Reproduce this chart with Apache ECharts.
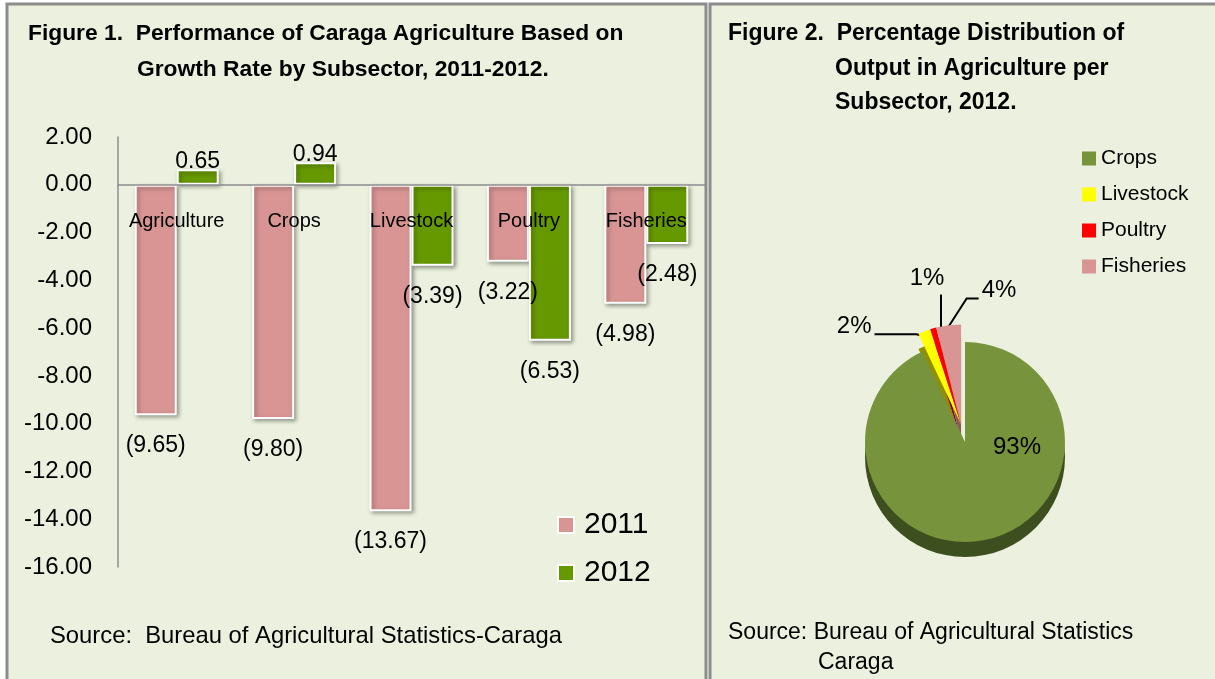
<!DOCTYPE html>
<html>
<head>
<meta charset="utf-8">
<script src="https://cdn.jsdelivr.net/npm/echarts@6/dist/echarts.min.js"></script>
<style>
  html, body { margin: 0; padding: 0; background: #ffffff; }
  #chart { width: 1215px; height: 679px; }
</style>
</head>
<body>
<div id="chart"></div>
<script>
// ---- data ----
const categories = ['Agriculture', 'Crops', 'Livestock', 'Poultry', 'Fisheries'];
const years = ['2011', '2012'];
const growth2011 = [-9.65, -9.80, -13.67, -3.22, -4.98];
const growth2012 = [0.65, 0.94, -3.39, -6.53, -2.48];
const yMin = -16, yMax = 2, yStep = 2;

const subsectors = ['Crops', 'Livestock', 'Poultry', 'Fisheries'];
const share2012 = [93, 2, 1, 4];

// ---- styling ----
const FONT = '"Liberation Sans", Arial, sans-serif';
const BG = '#EBF1DE';
const BORDER = '#8C8C8C';
const barColors = ['#D99594', '#669900'];
const pieTop = ['#77933C', '#FFFF00', '#FF0000', '#D99594'];
const pieSide = ['#3E4F1F', '#8F8F00', '#8A0000', '#8A5A59'];

const W = 1215, H = 679;
const GRID = { left: 118, right: 510, top: 137, bottom: 112 };
const CAT_LABEL_GAP = 27;
// place the category labels just below the zero line, as in the original
const gridH = H - GRID.top - GRID.bottom;
const zeroOffsetFromBottom = gridH * (0 - yMin) / (yMax - yMin);
const catLabelMargin = CAT_LABEL_GAP - zeroOffsetFromBottom;

// pie geometry: the small subsectors are pulled out of the pie together
const PIE_C = [965, 442], PIE_R = 100, DEPTH = 15, EXPLODE = 18;
const shareTotal = share2012.reduce((a, b) => a + b, 0);
const cropsEndDeg = 90 - 360 * share2012[0] / shareTotal + 360;
const smallMidRad = ((cropsEndDeg + 90) / 2) * Math.PI / 180;
const SMALL_C = [PIE_C[0] + EXPLODE * Math.cos(smallMidRad), PIE_C[1] - EXPLODE * Math.sin(smallMidRad)];

function fmtGrowth(v) {
  return v < 0 ? '(' + Math.abs(v).toFixed(2) + ')' : v.toFixed(2);
}

function barData(values) {
  return values.map(v => ({
    value: v,
    label: { position: v < 0 ? 'bottom' : 'top', distance: v < 0 ? 19 : -4 }
  }));
}

const HIDDEN = { itemStyle: { color: 'rgba(0,0,0,0)' }, label: { show: false }, labelLine: { show: false } };

// crops slice + an invisible stand-in for the rest
function cropsData(colors) {
  const rest = share2012.slice(1).reduce((a, b) => a + b, 0);
  return [
    { name: subsectors[0], value: share2012[0], itemStyle: { color: colors[0] } },
    Object.assign({ name: '', value: rest }, HIDDEN)
  ];
}
// invisible stand-in for crops + the small slices
function smallData(colors) {
  return [Object.assign({ name: '', value: share2012[0] }, HIDDEN)].concat(
    subsectors.slice(1).map((name, k) => ({
      name: name, value: share2012[k + 1], itemStyle: { color: colors[k + 1] }
    })));
}

// leader-line placement for the small-slice labels, relative to each slice's box
function smallLabelLayout(p) {
  const r = p.rect;
  if (p.dataIndex === 1) { // 2% – line to the left
    const s = [r.x + 6, r.y + 7];
    const m = [s[0] - 8, s[1] - 2];
    const e = [s[0] - 50, s[1] - 2];
    return { x: e[0] - 3, y: e[1] - 8, align: 'right', verticalAlign: 'middle',
      labelLinePoints: [s, m, e] };
  }
  if (p.dataIndex === 2) { // 1% – line straight up
    const s = [r.x + r.width * 0.35, r.y + 3];
    const m = [s[0], s[1] - 18];
    const e = [s[0], s[1] - 36];
    return { x: e[0] - 14, y: e[1] - 16, align: 'center', verticalAlign: 'middle',
      labelLinePoints: [s, m, e] };
  }
  if (p.dataIndex === 3) { // 4% – line up and to the right
    const s = [r.x + r.width * 0.5, r.y + 2];
    const m = [s[0] + 18, s[1] - 28];
    const e = [m[0] + 12, m[1]];
    return { x: e[0] + 3, y: e[1] - 8, align: 'left', verticalAlign: 'middle',
      labelLinePoints: [s, m, e] };
  }
  return {};
}

function cropsLabelLayout(p) {
  if (p.dataIndex !== 0) return {};
  return { x: PIE_C[0] + 52, y: PIE_C[1] + 5, align: 'center', verticalAlign: 'middle' };
}

const chart = echarts.init(document.getElementById('chart'));

const titleStyle = { fontFamily: FONT, fontSize: 23, fontWeight: 'bold', color: '#000' };
const srcStyle = { fontFamily: FONT, fontSize: 23, fontWeight: 'normal', color: '#000' };
const pieCommon = { type: 'pie', radius: PIE_R, startAngle: 90, clockwise: true,
  avoidLabelOverlap: false, emphasis: { disabled: true }, selectedMode: false };

const option = {
  backgroundColor: '#ffffff',
  animation: false,
  textStyle: { fontFamily: FONT, color: '#000' },
  graphic: [
    { type: 'rect', z: -10, shape: { x: 7, y: 4, width: 699, height: 700 },
      style: { fill: BG, stroke: BORDER, lineWidth: 3 } },
    { type: 'rect', z: -10, shape: { x: 710, y: 4, width: 520, height: 700 },
      style: { fill: BG, stroke: BORDER, lineWidth: 3 } }
  ],
  title: [
    { text: 'Figure 1.  Performance of Caraga Agriculture Based on', left: 28, top: 22, padding: 0,
      textStyle: Object.assign({}, titleStyle, { fontSize: 22.8 }) },
    { text: 'Growth Rate by Subsector, 2011-2012.', left: 137, top: 58, padding: 0,
      textStyle: Object.assign({}, titleStyle, { fontSize: 22.8 }) },
    { text: 'Figure 2.  Percentage Distribution of', left: 728, top: 22, padding: 0, textStyle: titleStyle },
    { text: 'Output in Agriculture per', left: 835, top: 57, padding: 0, textStyle: titleStyle },
    { text: 'Subsector, 2012.', left: 835, top: 91, padding: 0, textStyle: titleStyle },
    { text: 'Source:  Bureau of Agricultural Statistics-Caraga', left: 50, top: 624, padding: 0,
      textStyle: Object.assign({}, srcStyle, { fontSize: 23.8 }) },
    { text: 'Source: Bureau of Agricultural Statistics', left: 728, top: 621, padding: 0, textStyle: srcStyle },
    { text: 'Caraga', left: 818, top: 651, padding: 0, textStyle: srcStyle }
  ],
  legend: [
    { data: years, orient: 'vertical', left: 557, top: 510, padding: 0, itemWidth: 16, itemHeight: 16,
      itemGap: 18, icon: 'rect',
      textStyle: { fontFamily: FONT, fontSize: 30, color: '#000', padding: [0, 0, 0, 5] } },
    { data: subsectors, orient: 'vertical', left: 1082, top: 148, padding: 0, itemWidth: 14, itemHeight: 14,
      itemGap: 15, icon: 'rect', textStyle: { fontFamily: FONT, fontSize: 21, color: '#000' } }
  ],
  grid: Object.assign({ containLabel: false }, GRID),
  xAxis: {
    type: 'category', data: categories, z: 5,
    axisLine: { onZero: true, lineStyle: { color: '#8C8C8C', width: 1.5 } },
    axisTick: { show: false },
    axisLabel: { margin: catLabelMargin, fontSize: 20, color: '#000', fontFamily: FONT, interval: 0 }
  },
  yAxis: {
    type: 'value', min: yMin, max: yMax, interval: yStep,
    axisLine: { show: true, lineStyle: { color: '#8C8C8C', width: 1.5 } },
    axisTick: { show: false },
    splitLine: { show: false },
    axisLabel: { margin: 26, fontSize: 24, color: '#000', fontFamily: FONT,
      formatter: v => v.toFixed(2) }
  },
  series: [
    { name: years[0], type: 'bar', data: barData(growth2011), barWidth: 42, barGap: '0%',
      itemStyle: { color: barColors[0], borderColor: '#fff', borderWidth: 2,
        shadowBlur: 4, shadowColor: 'rgba(0,0,0,0.35)', shadowOffsetX: 2, shadowOffsetY: 2 },
      label: { show: true, fontSize: 23, color: '#000', fontFamily: FONT,
        formatter: p => fmtGrowth(p.value) } },
    { name: years[1], type: 'bar', data: barData(growth2012), barWidth: 42, barGap: '0%',
      itemStyle: { color: barColors[1], borderColor: '#fff', borderWidth: 2,
        shadowBlur: 4, shadowColor: 'rgba(0,0,0,0.35)', shadowOffsetX: 2, shadowOffsetY: 2 },
      label: { show: true, fontSize: 23, color: '#000', fontFamily: FONT,
        formatter: p => fmtGrowth(p.value) } },
    // top faces
    Object.assign({}, pieCommon, { name: 'crops', z: 4, center: PIE_C, data: cropsData(pieTop),
      label: { show: true, position: 'inside', formatter: '{c}%', fontSize: 24, color: '#000', fontFamily: FONT },
      labelLine: { show: false }, labelLayout: cropsLabelLayout }),
    Object.assign({}, pieCommon, { name: 'small', z: 4, center: SMALL_C, data: smallData(pieTop),
      label: { show: true, position: 'outside', formatter: '{c}%', fontSize: 24, color: '#000', fontFamily: FONT },
      labelLine: { show: true, length: 12, length2: 30, lineStyle: { color: '#000', width: 2 } },
      labelLayout: smallLabelLayout }),
    // side (depth) faces
    Object.assign({}, pieCommon, { name: 'cropsDepth', z: 2, silent: true,
      center: [PIE_C[0], PIE_C[1] + DEPTH], data: cropsData(pieSide),
      label: { show: false }, labelLine: { show: false } }),
    Object.assign({}, pieCommon, { name: 'smallDepth', z: 2, silent: true,
      center: [SMALL_C[0], SMALL_C[1] + DEPTH], data: smallData(pieSide),
      label: { show: false }, labelLine: { show: false } })
  ]
};

chart.setOption(option);
</script>
</body>
</html>
